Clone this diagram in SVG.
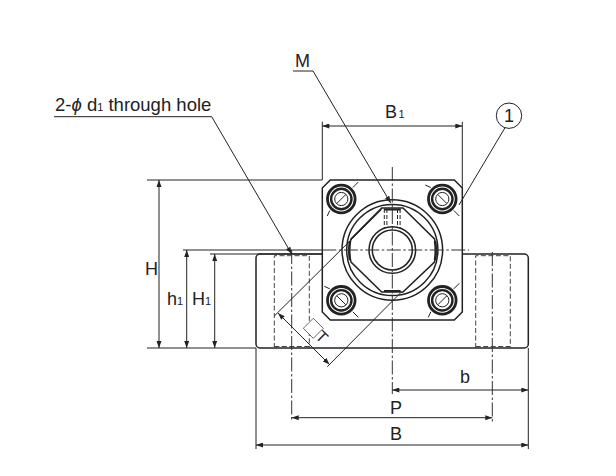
<svg xmlns="http://www.w3.org/2000/svg" width="616" height="476" viewBox="0 0 616 476">
<style>
.l{fill:none;stroke:#222;stroke-width:1}
.o{fill:none;stroke:#222;stroke-width:1.5}
.d{fill:none;stroke:#444;stroke-width:1;stroke-dasharray:5 2.5}
.c{fill:none;stroke:#333;stroke-width:1;stroke-dasharray:14 2.5 2.5 2.5}
.a{marker-end:url(#ah)}
.b{marker-start:url(#as);marker-end:url(#ah)}
text{font-family:"Liberation Sans",Arial,sans-serif;font-size:18px;fill:#222}
.s{font-size:11px}
</style>
<defs>
<marker id="ah" markerUnits="userSpaceOnUse" markerWidth="8" markerHeight="6" refX="7" refY="2.5" orient="auto"><path d="M0 0L7 2.5L0 5Z" fill="#222"/></marker>
<marker id="as" markerUnits="userSpaceOnUse" markerWidth="8" markerHeight="6" refX="0" refY="2.5" orient="auto"><path d="M7 0L0 2.5L7 5Z" fill="#222"/></marker>
<g id="bolt">
<circle r="13.8" fill="none" stroke="#222" stroke-width="2.8"/>
<circle r="10.200" fill="none" stroke="#222" stroke-width="2.400"/>
<circle r="6.600" class="l"/>
<path d="M-4.500 4.500L4.500 -4.500" class="l"/>
<path d="M11.500 -11.500L17 -17M-11.500 11.500L-14 17" class="l"/>
</g>
</defs>
<g id="base">
<path d="M322.300 254H260a4 4 0 0 0 -4 4V344a4 4 0 0 0 4 4H524.300a4 4 0 0 0 4 -4V258a4 4 0 0 0 -4 -4H462.300" class="o"/>
<path d="M274.300 348V255.700H309.300V348" class="d"/>
<path d="M475.700 348V255.700H510.300V348" class="d"/>
<path d="M274.300 346.500H309.300M475.700 346.500H510.300" class="d"/>
</g>
<g id="plate">
<path d="M330.300 180H454.300L462.300 188V312L454.300 320H330.300L322.300 312V188Z" class="o"/>
</g>
<g id="bolts">
<use href="#bolt" x="341.300" y="199"/>
<use href="#bolt" transform="translate(442.300 199) rotate(90)"/>
<use href="#bolt" transform="translate(341.300 300.300) rotate(90)"/>
<use href="#bolt" transform="translate(442.300 300.300) rotate(0)"/>
</g>
<g id="flange">
<circle cx="392.300" cy="250" r="50.300" class="o"/>
<circle cx="392.300" cy="250" r="45.600" class="o"/>
<path d="M381.700 208H403L434.500 239Q437.500 250 434.500 262L403 292H381.700L351 262Q347.500 250 351 239Z" class="o"/>
<path d="M384 209.500H400.500M384 291H400.500" fill="none" stroke="#222" stroke-width="2"/>
<path d="M350 241Q348.500 250 350 260M435 241Q436.500 250 435 260" fill="none" stroke="#222" stroke-width="2.500"/>
<path d="M384.300 209V228M386.900 209V228M397.500 209V228M400.100 209V228" class="l" stroke-dasharray="4 2"/>
<circle cx="392.300" cy="250" r="23.300" class="o"/>
<circle cx="392.300" cy="250" r="20" class="o"/>
</g>
<g id="connectors">
<path d="M392.300 167V394" class="c"/>
<path d="M322.300 250H469" class="c"/>
<path d="M183 250H322.300M210 254H322.300M147 180H322.300M147 348H256" class="l"/>
<path d="M291.700 250V421.700" class="c"/>
<path d="M492.300 252V421.700" class="c"/>
<path d="M256 348V449M528.300 348V449" class="l"/>
<path d="M322.300 180V121.700M462.300 188V122" class="l"/>
<path d="M322.300 126H462.300" class="l b"/>
<path d="M159 180V348" class="l b"/>
<path d="M186.700 250V348" class="l b"/>
<path d="M214.700 254V348" class="l b"/>
<path d="M392.300 390H528.300" class="l b"/>
<path d="M291.700 417.700H492.300" class="l b"/>
<path d="M256 445H528.300" class="l b"/>
<path d="M293 71H313L390.700 203" class="l a"/>
<path d="M54 116.700H211.700L291.700 254" class="l a"/>
<path d="M505 127.700L459 205" class="l"/>
<path d="M381.700 209.500L274.300 316M401.700 291.700L327.300 366.700" class="l"/>
<path d="M278 313L329.500 364.500" class="l b"/>
</g>
<g id="balloon"><circle cx="509" cy="115.700" r="12.700" class="l"/><text x="509" y="122" text-anchor="middle">1</text></g>
<g id="flatness"><path d="M303.300 328.300L313.300 318.300L323.300 328.300L313.300 338.300Z" style="fill:#fff;stroke:#444;stroke-width:.8"/><text transform="translate(318 340.800) rotate(45)" text-anchor="middle" style="font-size:16px">T</text></g>
<g id="labels">
<text x="295" y="66.700">M</text>
<text x="55" y="111" style="font-size:18.500px">2-<tspan font-style="italic">ϕ</tspan> d<tspan class="s">1</tspan> through hole</text>
<text x="385" y="117.700">B<tspan class="s" dx="1.500">1</tspan></text>
<text x="145" y="275">H</text>
<text x="167" y="305">h<tspan class="s">1</tspan></text>
<text x="192" y="305">H<tspan class="s">1</tspan></text>
<text x="460" y="383.300">b</text>
<text x="390" y="414">P</text>
<text x="390" y="440">B</text>
</g>
</svg>
